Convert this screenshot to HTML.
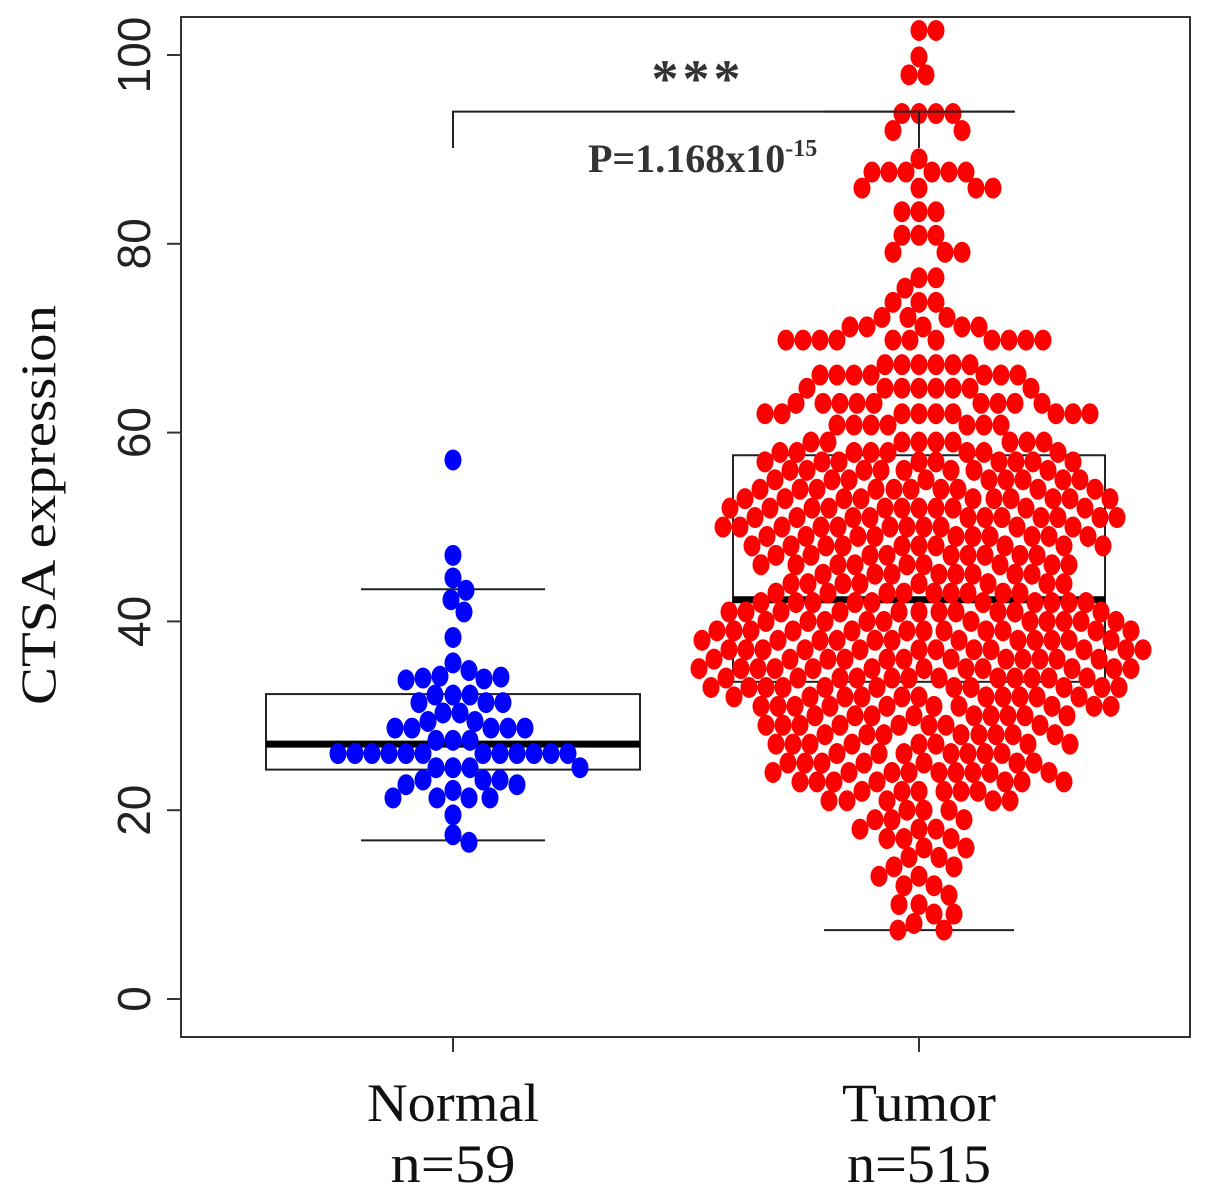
<!DOCTYPE html>
<html><head><meta charset="utf-8"><style>
body{margin:0;background:#fff;}
svg{display:block;}
</style></head><body>
<svg id="chart" width="1205" height="1195" viewBox="0 0 1205 1195" xmlns="http://www.w3.org/2000/svg">
<rect x="181" y="17" width="1009" height="1020" fill="none" stroke="#333" stroke-width="2"/>
<g id="yaxis"></g>
<g id="xaxis"></g>
<text x="0" y="0" transform="translate(55,505) rotate(-90)" text-anchor="middle" font-family="Liberation Serif, serif" font-size="50" textLength="400" lengthAdjust="spacingAndGlyphs" fill="#111">CTSA expression</text>
<g id="boxes"></g>
<g id="points"></g>
<g id="annot"></g>
</svg>
<script>
const yTicks = [0, 20, 40, 60, 80, 100];
const categories = ["Normal", "Tumor"];
const sampleSizes = ["n=59", "n=515"];
const normalValues = [57.1,47.0,44.6,43.3,42.3,41.0,38.3,35.6,34.8,34.2,34.0,33.9,33.8,34.1,32.2,32.2,32.2,31.4,31.4,31.4,30.3,30.3,29.4,29.4,28.7,28.7,28.7,28.7,28.7,27.4,27.4,27.4,26.0,26.0,26.0,26.0,26.0,26.0,26.0,26.0,26.0,26.0,26.0,26.0,24.5,24.5,24.5,24.5,23.2,23.2,23.2,22.7,22.7,22.1,21.3,21.3,21.3,21.3,19.5,17.4,16.6];
const tumorRowValues = [102.6,99.8,97.9,93.8,92,89,87.6,85.9,83.4,80.9,79.1,76.4,75.3,73.8,72.2,71.2,69.8,67.2,66.1,64.7,63.1,62,60.8,59,57.9,56.9,56,55,54,53,52,51,50,49,48,47,46,45,44,43,42,41,40,39,38,37,36,35,34,33,32,31,30,29,28,27,26,25,24,23,22,21,20,19,18,17,16,15,14,13,12,11,10,9,8,7.3];
const tumorRowCounts = [2,1,2,4,2,1,6,4,3,3,3,2,1,3,3,5,11,6,7,8,9,9,7,9,8,9,8,9,10,10,11,11,11,10,10,9,9,8,8,9,10,11,11,12,12,12,12,12,12,11,11,10,9,8,8,8,7,7,9,7,6,5,3,3,3,3,2,2,2,2,2,1,2,2,1,2];
const normalStats = [16.8, 24.3, 27.0, 32.3, 43.4];
const tumorStats = [7.3, 33.6, 42.3, 57.6, 94.0];

const NS = "http://www.w3.org/2000/svg";
const yScale = v => 999 - v * 9.44;
const xCenters = [453, 919];
function mk(tag, attrs, parent){const e=document.createElementNS(NS,tag);for(const k in attrs)e.setAttribute(k,attrs[k]);parent.appendChild(e);return e;}

const yax = document.getElementById('yaxis');
yTicks.forEach(t=>{
  const y=yScale(t);
  const l=mk('line',{x1:167,x2:181,y1:y,y2:y,stroke:'#333','stroke-width':2},yax);
  
  
  const tx=mk('text',{x:0,y:0,transform:`translate(150,${y}) rotate(-90)`,'text-anchor':'middle','font-family':'Liberation Sans, sans-serif','font-size':46,fill:'#222'},yax);
  tx.textContent=t;
  
  
});
const labW=[172,154], nW=[125,144];
const xax=document.getElementById('xaxis');
categories.forEach((c,i)=>{
  const x=xCenters[i];
  const l=mk('line',{x1:x,x2:x,y1:1037,y2:1052,stroke:'#333','stroke-width':2},xax);
  
  
  const t1=mk('text',{x:x,y:1121,'text-anchor':'middle','font-family':'Liberation Serif, serif','font-size':54,textLength:labW[i],lengthAdjust:'spacingAndGlyphs',fill:'#111'},xax);
  t1.textContent=c;
  
  
  const t2=mk('text',{x:x,y:1182,'text-anchor':'middle','font-family':'Liberation Serif, serif','font-size':54,textLength:nW[i],lengthAdjust:'spacingAndGlyphs',fill:'#111'},xax);
  t2.textContent=sampleSizes[i];
  
  
});

const bx=document.getElementById('boxes');
function drawBox(stats,cx,half,whHalf){
  const [lo,q1,med,q3,hi]=stats;
  const r=mk('rect',{x:cx-half,y:yScale(q3),width:2*half,height:yScale(q1)-yScale(q3),fill:'none',stroke:'#222','stroke-width':2},bx);
  
  
  const m=mk('line',{x1:cx-half,x2:cx+half,y1:yScale(med),y2:yScale(med),stroke:'#000','stroke-width':7},bx);
  
  
  [lo,hi].forEach(v=>{
    const w=mk('line',{x1:cx-whHalf,x2:cx+whHalf,y1:yScale(v),y2:yScale(v),stroke:'#222','stroke-width':2},bx);
    
    
  });
}
drawBox(normalStats,xCenters[0],187,92);
drawBox(tumorStats,xCenters[1],186,95);

function swarm(values,cx){
  const placed=[];const RX=16.5,RY=19.5;
  const out=[];
  values.forEach(v=>{
    const y=yScale(v);
    const near=placed.filter(p=>Math.abs(p.y-y)<RY);
    let best=null;
    for(let k=0;k<400;k++){
      const offs=k===0?[0]:[k,-k];
      for(const o of offs){
        let ok=true;
        for(const p of near){const dx=(p.dx-o)/RX,dy=(p.y-y)/RY;if(dx*dx+dy*dy<1){ok=false;break;}}
        if(ok){best=o;break;}
      }
      if(best!==null)break;
    }
    placed.push({dx:best,y:y});
    out.push({x:cx+best,y:y});
  });
  return out;
}
const pg=document.getElementById('points');
const nPts=swarm(normalValues,xCenters[0]);
nPts.forEach(p=>{
  const e=mk('ellipse',{cx:p.x,cy:p.y,rx:8.5,ry:10.5,fill:'#0000ff'},pg);
  
  
});
const tumorValues=[];
tumorRowValues.forEach((v,i)=>{for(let j=0;j<tumorRowCounts[i];j++)tumorValues.push(v);});
const tPts=swarm(tumorValues,xCenters[1]);
tPts.forEach(p=>{
  const e=mk('ellipse',{cx:p.x,cy:p.y,rx:8.5,ry:10.5,fill:'#ff0000'},pg);
  
  
});

const an=document.getElementById('annot');
const by=yScale(tumorStats[4]);
const br=mk('polyline',{points:`${xCenters[0]},148 ${xCenters[0]},${by} 1015,${by}`,fill:'none',stroke:'#222','stroke-width':2},an);


const br2=mk('line',{x1:xCenters[1],x2:xCenters[1],y1:by,y2:148,stroke:'#222','stroke-width':2},an);


const st=mk('text',{x:698,y:97,'text-anchor':'middle','font-family':'Liberation Serif, serif','font-size':54,'font-weight':'bold','letter-spacing':'4',fill:'#333'},an);
st.textContent='***';


const pv=mk('text',{x:588,y:172,'font-family':'Liberation Serif, serif','font-size':40,'font-weight':'bold',fill:'#333'},an);
pv.innerHTML='P=1.168x10<tspan dy="-16" font-size="24">-15</tspan>';


</script>
</body></html>
